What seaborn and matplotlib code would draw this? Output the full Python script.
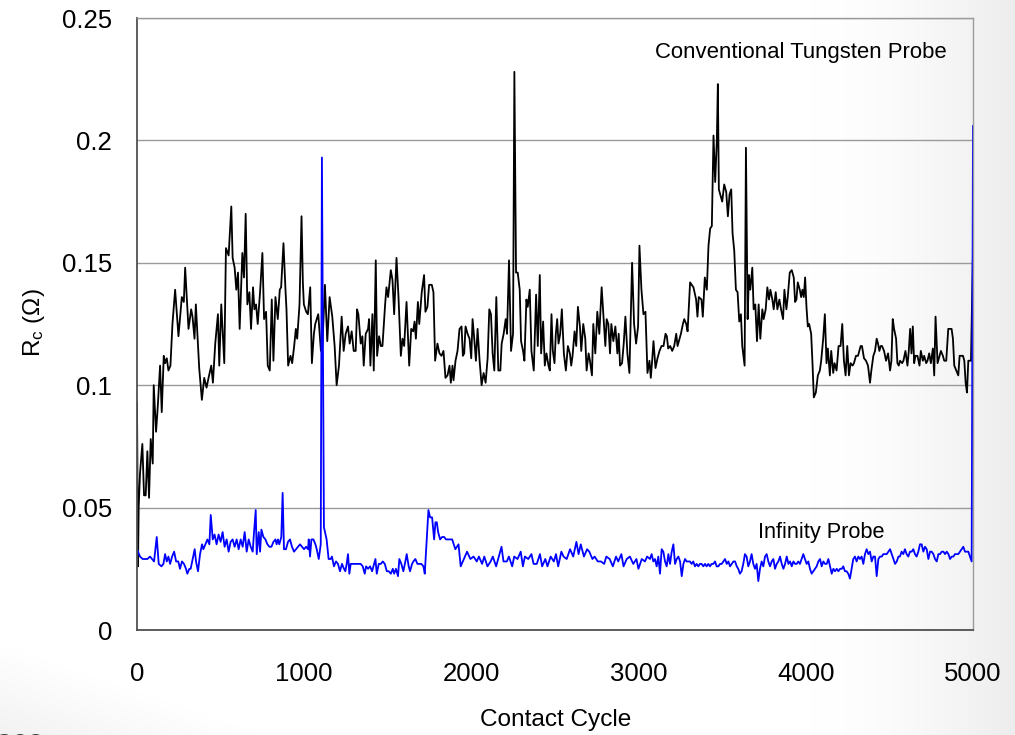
import numpy as np
import matplotlib
matplotlib.use("Agg")
import matplotlib.pyplot as plt
import seaborn as sns
from matplotlib.ticker import MultipleLocator, FixedLocator

# ---------------------------------------------------------------------------
# Contact resistance vs. contact cycle for two probe types
# ---------------------------------------------------------------------------
tungsten_cycle = [
    0, 6, 10, 18, 32, 42, 52, 62, 72, 82, 94, 100, 114, 124, 138, 148, 160, 168, 178, 188,
    200, 212, 228, 248, 268, 280, 288, 308, 324, 332, 344, 352, 372, 388, 402, 416, 428, 444, 454, 468,
    484, 492, 504, 522, 532, 548, 564, 572, 584, 594, 604, 614, 630, 640, 650, 660, 672, 682, 694, 702,
    712, 722, 736, 750, 760, 772, 782, 794, 806, 816, 828, 842, 854, 862, 876, 888, 894, 904, 918, 928,
    940, 950, 958, 972, 984, 992, 998, 1012, 1022, 1036, 1046, 1058, 1066, 1084, 1100, 1108, 1124, 1138, 1152, 1168,
    1182, 1194, 1208, 1224, 1236, 1248, 1262, 1272, 1284, 1296, 1308, 1316, 1324, 1338, 1348, 1356, 1368, 1382, 1388, 1396,
    1408, 1416, 1428, 1436, 1448, 1458, 1468, 1484, 1492, 1502, 1518, 1528, 1538, 1552, 1564, 1578, 1588, 1598, 1612, 1628,
    1640, 1652, 1660, 1668, 1680, 1688, 1703, 1717, 1725, 1737, 1747, 1763, 1773, 1783, 1797, 1809, 1821, 1833, 1845, 1857,
    1869, 1877, 1887, 1893, 1905, 1917, 1929, 1941, 1949, 1957, 1965, 1977, 1989, 1999, 2007, 2017, 2027, 2037, 2049, 2061,
    2073, 2085, 2097, 2107, 2117, 2127, 2137, 2149, 2161, 2173, 2181, 2193, 2205, 2213, 2225, 2237, 2249, 2257, 2267, 2277,
    2289, 2297, 2309, 2317, 2329, 2337, 2349, 2359, 2373, 2387, 2397, 2409, 2417, 2429, 2439, 2449, 2461, 2469, 2479, 2487,
    2497, 2505, 2513, 2521, 2531, 2541, 2553, 2565, 2577, 2589, 2597, 2605, 2617, 2627, 2637, 2649, 2657, 2669, 2681, 2689,
    2701, 2709, 2721, 2729, 2741, 2753, 2765, 2779, 2789, 2801, 2809, 2819, 2829, 2837, 2849, 2861, 2873, 2881, 2889, 2901,
    2911, 2921, 2933, 2945, 2961, 2973, 2985, 2997, 3005, 3017, 3029, 3041, 3053, 3065, 3073, 3081, 3089, 3101, 3113, 3125,
    3137, 3149, 3161, 3169, 3177, 3189, 3201, 3213, 3225, 3233, 3245, 3253, 3265, 3273, 3285, 3293, 3308, 3328, 3344, 3352,
    3360, 3376, 3384, 3396, 3408, 3418, 3428, 3438, 3448, 3458, 3468, 3474, 3480, 3492, 3500, 3512, 3524, 3534, 3544, 3554,
    3562, 3572, 3582, 3592, 3602, 3612, 3620, 3634, 3642, 3652, 3660, 3668, 3680, 3688, 3698, 3708, 3718, 3728, 3740, 3748,
    3760, 3770, 3780, 3788, 3800, 3808, 3820, 3830, 3842, 3852, 3864, 3872, 3884, 3892, 3904, 3916, 3928, 3936, 3944, 3952,
    3964, 3972, 3980, 3988, 3996, 4004, 4012, 4020, 4032, 4040, 4048, 4060, 4072, 4084, 4092, 4104, 4114, 4124, 4132, 4144,
    4152, 4164, 4172, 4184, 4196, 4208, 4218, 4228, 4238, 4248, 4258, 4268, 4280, 4288, 4300, 4312, 4328, 4336, 4348, 4360,
    4372, 4384, 4392, 4404, 4414, 4424, 4432, 4440, 4448, 4456, 4468, 4480, 4492, 4504, 4512, 4520, 4528, 4540, 4548, 4556,
    4564, 4576, 4584, 4596, 4608, 4616, 4624, 4632, 4640, 4648, 4656, 4668, 4680, 4688, 4700, 4708, 4720, 4728, 4738, 4748,
    4760, 4768, 4776, 4788, 4796, 4808, 4820, 4828, 4840, 4852, 4860, 4872, 4880, 4888, 4900, 4912, 4920, 4930, 4940, 4948,
    4956, 4964, 4972, 4980, 4988, 5000,
]
tungsten_rc = [
    0.093, 0.026, 0.050, 0.064, 0.076, 0.055, 0.055, 0.073, 0.054, 0.078, 0.068, 0.100, 0.081, 0.091, 0.108, 0.089, 0.112, 0.109, 0.111, 0.106,
    0.108, 0.125, 0.139, 0.120, 0.136, 0.134, 0.148, 0.123, 0.131, 0.128, 0.119, 0.133, 0.107, 0.094, 0.103, 0.099, 0.103, 0.108, 0.101, 0.117,
    0.129, 0.108, 0.133, 0.109, 0.156, 0.153, 0.173, 0.152, 0.148, 0.139, 0.146, 0.123, 0.154, 0.144, 0.170, 0.133, 0.138, 0.123, 0.140, 0.131,
    0.133, 0.125, 0.138, 0.154, 0.127, 0.130, 0.108, 0.106, 0.135, 0.110, 0.136, 0.127, 0.139, 0.140, 0.158, 0.139, 0.131, 0.108, 0.112, 0.109,
    0.116, 0.123, 0.119, 0.133, 0.169, 0.142, 0.133, 0.130, 0.129, 0.140, 0.109, 0.121, 0.125, 0.129, 0.114, 0.115, 0.141, 0.118, 0.136, 0.128,
    0.116, 0.100, 0.108, 0.128, 0.114, 0.121, 0.124, 0.117, 0.122, 0.114, 0.114, 0.131, 0.129, 0.117, 0.120, 0.108, 0.121, 0.123, 0.127, 0.108,
    0.129, 0.106, 0.151, 0.112, 0.120, 0.116, 0.116, 0.133, 0.140, 0.136, 0.147, 0.143, 0.129, 0.152, 0.136, 0.112, 0.119, 0.116, 0.134, 0.108,
    0.123, 0.122, 0.126, 0.119, 0.134, 0.125, 0.138, 0.145, 0.130, 0.132, 0.141, 0.141, 0.138, 0.110, 0.117, 0.113, 0.112, 0.114, 0.103, 0.104,
    0.108, 0.101, 0.108, 0.102, 0.110, 0.114, 0.123, 0.124, 0.112, 0.113, 0.124, 0.121, 0.119, 0.111, 0.127, 0.119, 0.110, 0.123, 0.110, 0.100,
    0.105, 0.101, 0.111, 0.131, 0.129, 0.113, 0.106, 0.136, 0.106, 0.106, 0.117, 0.121, 0.127, 0.121, 0.151, 0.114, 0.121, 0.228, 0.146, 0.146,
    0.139, 0.118, 0.114, 0.110, 0.135, 0.132, 0.139, 0.114, 0.106, 0.137, 0.116, 0.145, 0.113, 0.126, 0.108, 0.113, 0.108, 0.106, 0.129, 0.114,
    0.109, 0.121, 0.127, 0.117, 0.121, 0.131, 0.113, 0.106, 0.116, 0.113, 0.108, 0.112, 0.122, 0.116, 0.132, 0.124, 0.114, 0.125, 0.119, 0.106,
    0.113, 0.110, 0.104, 0.125, 0.113, 0.130, 0.121, 0.140, 0.129, 0.116, 0.127, 0.125, 0.113, 0.125, 0.118, 0.124, 0.113, 0.121, 0.108, 0.109,
    0.117, 0.128, 0.113, 0.105, 0.150, 0.125, 0.117, 0.124, 0.157, 0.139, 0.129, 0.130, 0.105, 0.110, 0.103, 0.110, 0.118, 0.107, 0.111, 0.114,
    0.116, 0.116, 0.121, 0.120, 0.115, 0.116, 0.114, 0.116, 0.121, 0.116, 0.119, 0.121, 0.125, 0.127, 0.125, 0.122, 0.142, 0.140, 0.135, 0.128,
    0.136, 0.135, 0.128, 0.144, 0.139, 0.157, 0.164, 0.165, 0.202, 0.183, 0.200, 0.223, 0.180, 0.177, 0.175, 0.182, 0.179, 0.169, 0.178, 0.180,
    0.162, 0.155, 0.139, 0.138, 0.126, 0.129, 0.116, 0.108, 0.197, 0.127, 0.145, 0.139, 0.148, 0.131, 0.133, 0.118, 0.133, 0.119, 0.131, 0.127,
    0.131, 0.140, 0.135, 0.139, 0.135, 0.131, 0.138, 0.131, 0.135, 0.131, 0.127, 0.139, 0.131, 0.136, 0.146, 0.147, 0.144, 0.134, 0.135, 0.142,
    0.139, 0.136, 0.139, 0.136, 0.144, 0.132, 0.124, 0.125, 0.121, 0.109, 0.095, 0.097, 0.104, 0.106, 0.110, 0.119, 0.129, 0.109, 0.115, 0.104,
    0.114, 0.105, 0.109, 0.106, 0.116, 0.116, 0.125, 0.110, 0.104, 0.116, 0.104, 0.109, 0.108, 0.109, 0.112, 0.112, 0.116, 0.116, 0.111, 0.110,
    0.108, 0.101, 0.106, 0.112, 0.114, 0.119, 0.117, 0.114, 0.116, 0.116, 0.114, 0.110, 0.113, 0.106, 0.110, 0.127, 0.123, 0.119, 0.109, 0.108,
    0.110, 0.109, 0.110, 0.114, 0.108, 0.114, 0.123, 0.113, 0.124, 0.109, 0.112, 0.112, 0.108, 0.114, 0.110, 0.112, 0.109, 0.110, 0.113, 0.109,
    0.115, 0.104, 0.128, 0.109, 0.111, 0.114, 0.112, 0.110, 0.110, 0.123, 0.123, 0.123, 0.119, 0.108, 0.106, 0.104, 0.112, 0.112, 0.112, 0.110,
    0.101, 0.097, 0.110, 0.110, 0.110, 0.155,
]

infinity_cycle = [
    0, 18, 34, 48, 62, 78, 90, 102, 118, 130, 146, 158, 168, 178, 188, 198, 210, 222, 234, 247,
    257, 269, 281, 293, 301, 313, 321, 333, 345, 353, 365, 377, 389, 397, 409, 421, 433, 441, 453, 464,
    476, 488, 500, 512, 524, 536, 548, 560, 572, 584, 596, 608, 620, 632, 644, 656, 668, 680, 692, 700,
    710, 716, 728, 736, 744, 756, 768, 780, 792, 804, 816, 828, 835, 843, 851, 863, 871, 879, 891, 903,
    915, 927, 939, 951, 963, 975, 987, 999, 1011, 1023, 1027, 1035, 1043, 1055, 1067, 1075, 1087, 1099, 1106, 1118,
    1134, 1146, 1158, 1166, 1178, 1190, 1202, 1214, 1226, 1238, 1246, 1254, 1262, 1270, 1278, 1290, 1302, 1314, 1326, 1338,
    1350, 1362, 1370, 1382, 1394, 1406, 1418, 1426, 1434, 1446, 1458, 1470, 1482, 1494, 1506, 1518, 1530, 1538, 1549, 1561,
    1569, 1581, 1593, 1605, 1613, 1625, 1633, 1645, 1653, 1665, 1677, 1689, 1701, 1713, 1721, 1733, 1743, 1753, 1765, 1777,
    1785, 1793, 1801, 1813, 1825, 1837, 1848, 1862, 1885, 1904, 1923, 1936, 1955, 1974, 1994, 2013, 2032, 2045, 2064, 2077,
    2096, 2115, 2128, 2148, 2160, 2180, 2192, 2212, 2224, 2244, 2256, 2276, 2295, 2308, 2320, 2340, 2359, 2372, 2391, 2410,
    2423, 2442, 2455, 2474, 2493, 2506, 2519, 2538, 2551, 2570, 2590, 2609, 2628, 2641, 2654, 2673, 2692, 2705, 2724, 2737,
    2756, 2775, 2794, 2807, 2827, 2846, 2865, 2878, 2897, 2910, 2929, 2948, 2968, 2987, 2999, 3019, 3038, 3051, 3068, 3078,
    3088, 3098, 3108, 3118, 3128, 3138, 3148, 3158, 3168, 3178, 3188, 3198, 3208, 3218, 3228, 3238, 3248, 3258, 3268, 3278,
    3287, 3297, 3307, 3317, 3327, 3337, 3347, 3357, 3367, 3377, 3387, 3397, 3407, 3417, 3427, 3437, 3447, 3457, 3467, 3477,
    3487, 3497, 3507, 3517, 3527, 3537, 3547, 3557, 3567, 3577, 3587, 3596, 3606, 3616, 3626, 3636, 3646, 3656, 3666, 3676,
    3686, 3696, 3706, 3716, 3726, 3736, 3746, 3756, 3766, 3776, 3786, 3796, 3806, 3816, 3826, 3836, 3846, 3856, 3866, 3876,
    3886, 3896, 3906, 3916, 3926, 3936, 3945, 3955, 3965, 3975, 3985, 3995, 4005, 4015, 4025, 4035, 4045, 4055, 4065, 4075,
    4085, 4095, 4105, 4115, 4125, 4135, 4145, 4155, 4165, 4175, 4185, 4195, 4205, 4215, 4224, 4234, 4244, 4254, 4264, 4274,
    4284, 4294, 4304, 4314, 4324, 4334, 4344, 4354, 4364, 4374, 4384, 4394, 4404, 4414, 4424, 4434, 4444, 4454, 4464, 4474,
    4484, 4494, 4504, 4514, 4524, 4534, 4544, 4554, 4563, 4573, 4583, 4593, 4603, 4613, 4623, 4633, 4643, 4653, 4663, 4673,
    4683, 4693, 4703, 4713, 4723, 4733, 4743, 4753, 4763, 4773, 4783, 4793, 4803, 4813, 4823, 4833, 4843, 4853, 4863, 4873,
    4883, 4892, 4902, 4912, 4922, 4932, 4942, 4952, 4962, 4972, 4982, 4992, 5000,
]
infinity_rc = [
    0.033, 0.030, 0.029, 0.029, 0.029, 0.030, 0.029, 0.028, 0.038, 0.027, 0.026, 0.027, 0.031, 0.028, 0.030, 0.027, 0.030, 0.032, 0.028, 0.028,
    0.025, 0.028, 0.027, 0.025, 0.023, 0.025, 0.025, 0.029, 0.033, 0.028, 0.024, 0.031, 0.035, 0.033, 0.035, 0.037, 0.035, 0.047, 0.037, 0.039,
    0.035, 0.039, 0.036, 0.040, 0.034, 0.037, 0.032, 0.036, 0.037, 0.034, 0.037, 0.033, 0.037, 0.034, 0.040, 0.032, 0.037, 0.034, 0.032, 0.040,
    0.049, 0.031, 0.040, 0.032, 0.041, 0.038, 0.037, 0.035, 0.034, 0.034, 0.036, 0.037, 0.035, 0.037, 0.035, 0.038, 0.056, 0.033, 0.033, 0.036,
    0.037, 0.034, 0.032, 0.033, 0.034, 0.035, 0.034, 0.033, 0.034, 0.033, 0.037, 0.030, 0.037, 0.037, 0.035, 0.033, 0.029, 0.035, 0.193, 0.042,
    0.037, 0.029, 0.029, 0.030, 0.026, 0.028, 0.027, 0.024, 0.027, 0.025, 0.024, 0.027, 0.031, 0.023, 0.027, 0.027, 0.027, 0.027, 0.027, 0.027,
    0.026, 0.023, 0.026, 0.025, 0.026, 0.024, 0.027, 0.029, 0.023, 0.027, 0.027, 0.028, 0.027, 0.024, 0.024, 0.023, 0.025, 0.023, 0.025, 0.022,
    0.029, 0.027, 0.024, 0.028, 0.031, 0.026, 0.024, 0.027, 0.028, 0.029, 0.027, 0.027, 0.027, 0.026, 0.023, 0.037, 0.049, 0.046, 0.046, 0.037,
    0.044, 0.044, 0.040, 0.037, 0.038, 0.038, 0.037, 0.037, 0.037, 0.033, 0.035, 0.026, 0.029, 0.032, 0.029, 0.030, 0.028, 0.030, 0.027, 0.030,
    0.026, 0.028, 0.030, 0.026, 0.029, 0.034, 0.028, 0.028, 0.030, 0.026, 0.030, 0.029, 0.032, 0.026, 0.030, 0.029, 0.031, 0.027, 0.027, 0.031,
    0.026, 0.029, 0.026, 0.030, 0.028, 0.031, 0.026, 0.032, 0.030, 0.029, 0.033, 0.030, 0.036, 0.031, 0.035, 0.030, 0.033, 0.032, 0.029, 0.030,
    0.028, 0.028, 0.027, 0.030, 0.029, 0.026, 0.030, 0.028, 0.031, 0.026, 0.029, 0.030, 0.027, 0.029, 0.025, 0.029, 0.028, 0.030, 0.029, 0.031,
    0.028, 0.029, 0.026, 0.030, 0.023, 0.033, 0.032, 0.028, 0.026, 0.031, 0.027, 0.032, 0.035, 0.027, 0.029, 0.030, 0.028, 0.022, 0.027, 0.029,
    0.028, 0.028, 0.028, 0.027, 0.028, 0.026, 0.027, 0.026, 0.027, 0.027, 0.026, 0.027, 0.026, 0.027, 0.026, 0.027, 0.027, 0.028, 0.026, 0.026,
    0.027, 0.027, 0.028, 0.029, 0.027, 0.028, 0.026, 0.027, 0.028, 0.028, 0.026, 0.025, 0.023, 0.024, 0.027, 0.031, 0.030, 0.026, 0.028, 0.031,
    0.027, 0.025, 0.027, 0.020, 0.025, 0.028, 0.026, 0.030, 0.031, 0.028, 0.026, 0.028, 0.029, 0.025, 0.027, 0.028, 0.030, 0.027, 0.025, 0.027,
    0.030, 0.027, 0.028, 0.026, 0.028, 0.027, 0.027, 0.028, 0.027, 0.029, 0.031, 0.029, 0.027, 0.028, 0.025, 0.023, 0.024, 0.025, 0.026, 0.028,
    0.029, 0.026, 0.028, 0.027, 0.027, 0.029, 0.026, 0.023, 0.025, 0.024, 0.025, 0.024, 0.025, 0.025, 0.026, 0.024, 0.024, 0.023, 0.021, 0.025,
    0.029, 0.030, 0.028, 0.030, 0.029, 0.030, 0.027, 0.031, 0.033, 0.031, 0.032, 0.028, 0.030, 0.030, 0.022, 0.029, 0.030, 0.030, 0.031, 0.031,
    0.031, 0.032, 0.033, 0.031, 0.029, 0.027, 0.028, 0.030, 0.030, 0.032, 0.031, 0.033, 0.031, 0.030, 0.032, 0.032, 0.033, 0.031, 0.030, 0.032,
    0.035, 0.035, 0.032, 0.034, 0.033, 0.029, 0.032, 0.032, 0.031, 0.029, 0.028, 0.031, 0.031, 0.032, 0.032, 0.031, 0.032, 0.031, 0.029, 0.030,
    0.030, 0.031, 0.031, 0.031, 0.032, 0.033, 0.034, 0.032, 0.032, 0.032, 0.030, 0.028, 0.206,
]

x_major = [0, 1000, 2000, 3000, 4000, 5000]
x_labels = ["0", "1000", "2000", "3000", "4000", "5000"]
y_major = [0, 0.05, 0.1, 0.15, 0.2, 0.25]
y_labels = ["0", "0.05", "0.1", "0.15", "0.2", "0.25"]

# ---------------------------------------------------------------------------
sns.set_theme(style="white")
plt.rcParams["font.family"] = ["Liberation Sans", "DejaVu Sans"]
plt.rcParams["mathtext.fontset"] = "custom"
plt.rcParams["mathtext.rm"] = "Liberation Sans"
plt.rcParams["mathtext.it"] = "Liberation Sans"
plt.rcParams["text.color"] = "black"

W, H = 1015, 735
fig = plt.figure(figsize=(W / 100, H / 100), dpi=100)
fig.patch.set_facecolor("white")

# soft slide backdrop: light grey toward the right edge and lower-left corner
bg = fig.add_axes([0, 0, 1, 1], zorder=-10)
gx = np.linspace(0, 1, 400)[None, :]
gy = np.linspace(0, 1, 300)[:, None]
shade = 1.0 - 0.07 * np.clip((gx - 0.80) / 0.20, 0, 1) ** 1.6
shade = shade - 0.05 * np.clip(1 - (gx / 0.25 + (1 - gy) / 0.12), 0, 1)
bg.imshow(np.dstack([shade] * 3), extent=[0, 1, 0, 1], aspect="auto", origin="upper",
          vmin=0, vmax=1)
bg.set_axis_off()

ax = fig.add_axes([137 / W, 105 / H, 836 / W, 612 / H])
ax.patch.set_alpha(0)

sns.lineplot(x=tungsten_cycle, y=tungsten_rc, ax=ax, color="black", lw=1.3,
             estimator=None, sort=False)
sns.lineplot(x=infinity_cycle, y=infinity_rc, ax=ax, color="#0000ff", lw=1.3,
             estimator=None, sort=False)

ax.set_xlim(0, 5000)
ax.set_ylim(0, 0.25)
ax.xaxis.set_major_locator(FixedLocator(x_major))
ax.set_xticklabels(x_labels)
ax.xaxis.set_minor_locator(MultipleLocator(200))
ax.yaxis.set_major_locator(FixedLocator(y_major))
ax.set_yticklabels(y_labels)
ax.yaxis.set_minor_locator(MultipleLocator(0.01))

ax.tick_params(axis="both", which="both", direction="in", length=8, width=1,
               color="#555555", labelsize=18.5, labelcolor="black")
ax.tick_params(axis="x", which="major", pad=23)
ax.tick_params(axis="y", which="major", pad=18)

ax.yaxis.grid(True, color="#9a9a9a", lw=1)
ax.xaxis.grid(False)
ax.set_axisbelow(True)

for side in ("left", "bottom"):
    ax.spines[side].set_color("#505050")
    ax.spines[side].set_linewidth(1.3)
for side in ("top", "right"):
    ax.spines[side].set_color("#9a9a9a")
    ax.spines[side].set_linewidth(1.0)

ax.set_xlabel("")
ax.set_ylabel("")
fig.text(556 / W, 1 - 720 / H, "Contact Cycle", ha="center", va="center", fontsize=17.6)
fig.text(34 / W, 1 - 323 / H, r"R$_\mathregular{c}$ ($\Omega$)", ha="center", va="center",
         rotation=90, fontsize=17.6)

ax.text(0.6196, 0.944, "Conventional Tungsten Probe", transform=ax.transAxes,
        ha="left", va="center", fontsize=15.9)
ax.text(0.743, 0.160, "Infinity Probe", transform=ax.transAxes,
        ha="left", va="center", fontsize=15.7)

fig.text(-0.004, -0.022, "ace", ha="left", va="baseline", fontsize=22, color="#404040")

fig.savefig("out.png", dpi=100)
